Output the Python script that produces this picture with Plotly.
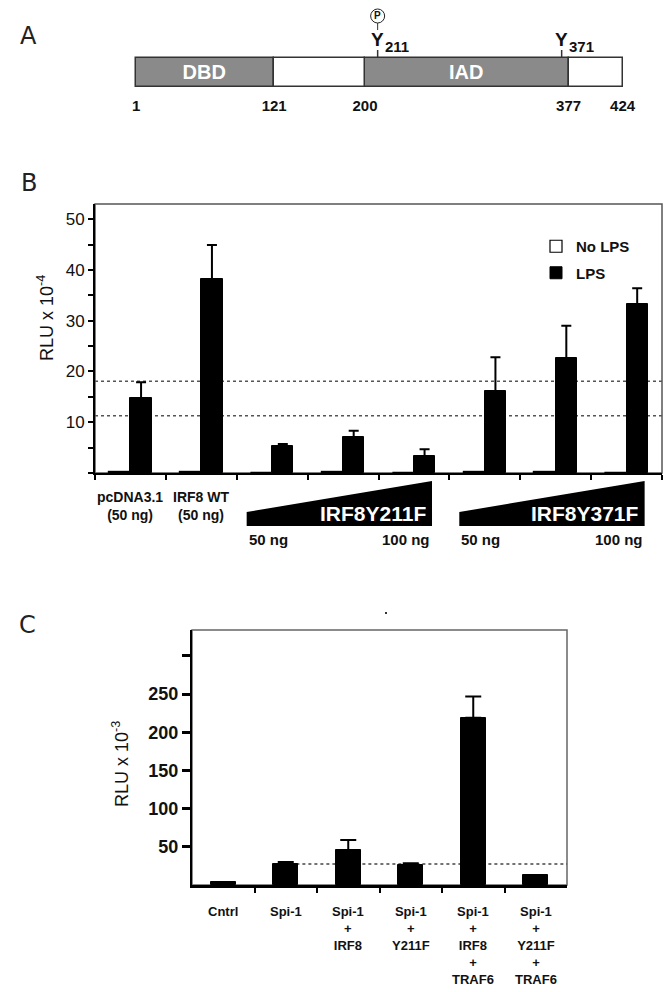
import plotly.graph_objects as go

W, H = 671, 992
FONT = "Liberation Sans, Arial, sans-serif"


def px(xp):
    return xp / W


def py(yp):
    return 1 - yp / H


# ---------------- data ----------------
# Panel A: IRF8 domain structure
domain_names = ["DBD", "", "IAD", ""]
domain_start = [1, 121, 200, 377]
domain_end = [121, 200, 377, 424]
domain_filled = [True, False, True, False]
boundary_ticks = [1, 121, 200, 377, 424]
tyrosine_sites = [211, 371]
phospho_sites = [211]

# Panel B: luciferase, RLU x 10^-4
b_groups = ["pcDNA3.1 (50 ng)", "IRF8 WT (50 ng)",
            "IRF8Y211F 50 ng", "IRF8Y211F 75 ng", "IRF8Y211F 100 ng",
            "IRF8Y371F 50 ng", "IRF8Y371F 75 ng", "IRF8Y371F 100 ng"]
b_no_lps = [0.25, 0.25, 0.0, 0.25, 0.0, 0.25, 0.25, 0.0]
b_lps = [14.8, 38.2, 5.4, 7.1, 3.3, 16.1, 22.6, 33.2]
b_lps_err = [3.1, 6.7, 0.3, 1.2, 1.4, 6.7, 6.4, 3.2]
b_thresholds = [18.1, 11.3]
b_yticks = [10, 20, 30, 40, 50]
b_minor_ticks = [0, 5, 15, 25, 35, 45]
b_group_text = ["pcDNA3.1<br>(50 ng)", "IRF8 WT<br>(50 ng)"]
b_dose_series = ["IRF8Y211F", "IRF8Y371F"]
b_dose_groups = [[2, 3, 4], [5, 6, 7]]
b_dose_low, b_dose_high = "50 ng", "100 ng"

# Panel C: luciferase, RLU x 10^-3
c_labels = ["Cntrl", "Spi-1", "Spi-1\n+\nIRF8", "Spi-1\n+\nY211F",
            "Spi-1\n+\nIRF8\n+\nTRAF6", "Spi-1\n+\nY211F\n+\nTRAF6"]
c_values = [4, 27.5, 46, 26, 219, 13]
c_err = [0, 2.5, 13, 2.5, 28, 0]
c_threshold = 27.5
c_yticks = [50, 100, 150, 200, 250]
c_unlabeled_ticks = [300]

# ---------------- figure ----------------
fig = go.Figure()

# Panel A bar: filled (named) domains and plain linker regions
for filled in (True, False):
    idx = [i for i, f in enumerate(domain_filled) if f == filled]
    trace = dict(
        orientation="h", y=[0] * len(idx),
        x=[domain_end[i] - domain_start[i] for i in idx],
        base=[domain_start[i] for i in idx], width=1,
        marker=dict(color="#8a8a8a" if filled else "#ffffff",
                    line=dict(color="#333333", width=1.5)),
        xaxis="x3", yaxis="y3", showlegend=False, hoverinfo="skip")
    if filled:
        trace.update(text=[domain_names[i] for i in idx], textposition="inside",
                     insidetextanchor="middle", textangle=0, constraintext="none",
                     textfont=dict(color="white", size=20, family=FONT, weight="bold"))
    fig.add_trace(go.Bar(**trace))

# Panel B bars
bx = list(range(len(b_groups)))
fig.add_trace(go.Bar(
    x=bx, y=b_no_lps, name="No LPS", width=0.3, offset=-0.3,
    marker=dict(color="white", line=dict(color="black", width=1.2)),
    xaxis="x", yaxis="y", legendgroup="a"))
fig.add_trace(go.Bar(
    x=bx, y=b_lps, name="LPS", width=0.3, offset=0,
    marker=dict(color="black", line=dict(color="black", width=1)),
    error_y=dict(type="data", array=b_lps_err, arrayminus=[0] * len(b_lps),
                 symmetric=False, color="black", thickness=2, width=5),
    xaxis="x", yaxis="y", legendgroup="b"))

# Panel C bars
cx = list(range(len(c_labels)))
fig.add_trace(go.Bar(
    x=cx, y=c_values, width=0.4, offset=-0.2,
    marker=dict(color="black", line=dict(color="black", width=1)),
    error_y=dict(type="data", array=c_err, arrayminus=[0] * len(c_err),
                 symmetric=False, color="black", thickness=2, width=8),
    xaxis="x2", yaxis="y2", showlegend=False))

shapes = []
ann = []

# ---- Panel A decorations ----
for s in tyrosine_sites:
    shapes.append(dict(type="line", xref="x3", yref="paper", x0=s, x1=s,
                       y0=py(58), y1=py(50), line=dict(color="#333", width=1.5)))
    ann.append(dict(xref="x3", yref="paper", x=s, y=py(40), text="<b>Y</b>",
                    showarrow=False, font=dict(size=19, family=FONT, color="#111"),
                    xanchor="center", yanchor="middle"))
    ann.append(dict(xref="x3", yref="paper", x=s, y=py(46), text="<b>%d</b>" % s,
                    showarrow=False, font=dict(size=15, family=FONT, color="#111"),
                    xanchor="left", yanchor="middle", xshift=5))
for s in phospho_sites:
    shapes.append(dict(type="circle", xref="x3", yref="paper",
                       xsizemode="pixel", ysizemode="pixel",
                       xanchor=s, yanchor=py(16), x0=-7, x1=7, y0=-7, y1=7,
                       line=dict(color="#222", width=1), fillcolor="white"))
    shapes.append(dict(type="line", xref="x3", yref="paper", x0=s, x1=s,
                       y0=py(23), y1=py(30), line=dict(color="#333", width=1)))
    ann.append(dict(xref="x3", yref="paper", x=s, y=py(16), text="<b>P</b>",
                    showarrow=False, font=dict(size=10, family=FONT, color="#111"),
                    xanchor="center", yanchor="middle"))

# ---- Panel B decorations ----
shapes.append(dict(type="rect", xref="x domain", yref="y domain", x0=0, x1=1, y0=0, y1=1,
                   line=dict(color="#555", width=1.5), layer="below"))
for t in b_thresholds:
    shapes.append(dict(type="line", xref="x domain", yref="y", x0=0, x1=1, y0=t, y1=t,
                       line=dict(color="#555", width=1.5, dash="dot"), layer="below"))
for gi, txt in enumerate(b_group_text):
    ann.append(dict(xref="x", yref="paper", x=bx[gi], y=py(506),
                    text="<b>%s</b>" % txt, showarrow=False,
                    font=dict(size=14, family=FONT, color="#111"),
                    xanchor="center", yanchor="middle"))
for name, grp in zip(b_dose_series, b_dose_groups):
    xl = grp[0] - 0.36
    xr = grp[-1] + 0.255
    shapes.append(dict(type="path", xref="x", yref="paper",
                       path="M %f,%f L %f,%f L %f,%f L %f,%f Z" % (
                           xl, py(526), xl, py(512), xr, py(481), xr, py(526)),
                       fillcolor="black", line=dict(color="black", width=0)))
    ann.append(dict(xref="x", yref="paper", x=xr, y=py(513), text="<b>%s</b>" % name,
                    showarrow=False, font=dict(size=21, family=FONT, color="white"),
                    xanchor="right", yanchor="middle", xshift=-4))
    ann.append(dict(xref="x", yref="paper", x=xl, y=py(539), text="<b>%s</b>" % b_dose_low,
                    showarrow=False, font=dict(size=15, family=FONT, color="#111"),
                    xanchor="left", yanchor="middle"))
    ann.append(dict(xref="x", yref="paper", x=xr, y=py(539), text="<b>%s</b>" % b_dose_high,
                    showarrow=False, font=dict(size=15, family=FONT, color="#111"),
                    xanchor="right", yanchor="middle"))
ann.append(dict(xref="paper", yref="paper", x=px(45), y=py(318),
                text="RLU x 10<sup>-4</sup>", textangle=-90, showarrow=False,
                font=dict(size=18, family=FONT, color="#111"),
                xanchor="center", yanchor="middle"))

# ---- Panel C decorations ----
shapes.append(dict(type="rect", xref="x2 domain", yref="y2 domain", x0=0, x1=1, y0=0, y1=1,
                   line=dict(color="#666", width=1.5), layer="below"))
shapes.append(dict(type="line", xref="x2", yref="y2", x0=1.17, x1=len(c_labels) - 0.5,
                   y0=c_threshold, y1=c_threshold,
                   line=dict(color="#444", width=1.3, dash="dot"), layer="below"))
shapes.append(dict(type="rect", xref="paper", yref="paper", x0=px(385), x1=px(387),
                   y0=py(614), y1=py(612), fillcolor="#333", line=dict(width=0)))
for i, lab in enumerate(c_labels):
    ann.append(dict(xref="x2", yref="paper", x=cx[i], y=py(902),
                    text="<b>%s</b>" % lab.replace("\n", "<br>"), showarrow=False,
                    font=dict(size=13, family=FONT, color="#111"),
                    xanchor="center", yanchor="top"))
ann.append(dict(xref="paper", yref="paper", x=px(120), y=py(764),
                text="RLU x 10<sup>-3</sup>", textangle=-90, showarrow=False,
                font=dict(size=18, family=FONT, color="#111"),
                xanchor="center", yanchor="middle"))

# Panel letters
for letter, (lx, ly) in zip(["A", "B", "C"], [(28, 36), (29, 183), (27, 625)]):
    ann.append(dict(xref="paper", yref="paper", x=px(lx), y=py(ly), text=letter,
                    showarrow=False, font=dict(size=24, family="DejaVu Sans", color="#222"),
                    xanchor="center", yanchor="middle"))

A_a, A_b = 135.0, 1.15
fig.update_layout(
    width=W, height=H, margin=dict(l=0, r=0, t=0, b=0),
    paper_bgcolor="white", plot_bgcolor="rgba(0,0,0,0)",
    barmode="overlay", bargap=0,
    font=dict(family=FONT, color="#111"),
    shapes=shapes, annotations=ann,
    legend=dict(x=px(536), y=py(230), xanchor="left", yanchor="top",
                bgcolor="rgba(0,0,0,0)", tracegroupgap=4,
                font=dict(size=15, family=FONT, color="#111", weight="bold")),
    # Panel A axes
    xaxis3=dict(domain=[0, 1], range=[(0 - A_a) / A_b, (W - A_a) / A_b], anchor="y3",
                tickvals=boundary_ticks, ticktext=["<b>%d</b>" % v for v in boundary_ticks],
                ticks="", showline=False, showgrid=False, zeroline=False,
                tickfont=dict(size=15, family=FONT, color="#111")),
    yaxis3=dict(domain=[py(95), py(50)], range=[-0.776, 0.776], anchor="x3",
                visible=False),
    # Panel B axes
    xaxis=dict(domain=[px(95), px(662)], range=[-0.5, len(b_groups) - 0.5], anchor="y",
               tickvals=[i - 0.5 for i in range(len(b_groups) + 1)],
               ticks="outside", ticklen=5, tickwidth=2, tickcolor="black",
               showticklabels=False, showline=True, linecolor="black", linewidth=2,
               showgrid=False, zeroline=False),
    yaxis=dict(domain=[py(473), py(204)], range=[0, 53], anchor="x",
               tickvals=b_yticks, ticks="outside", ticklen=5, tickwidth=1.5,
               tickcolor="black",
               minor=dict(tickvals=b_minor_ticks, ticks="outside", ticklen=5,
                          tickwidth=1.5, tickcolor="black"),
               showline=True, linecolor="black", linewidth=2,
               showgrid=False, zeroline=False,
               tickfont=dict(size=17, family=FONT, color="#111")),
    # Panel C axes
    xaxis2=dict(domain=[px(192), px(567)], range=[-0.5, len(c_labels) - 0.5], anchor="y2",
                tickvals=[i + 0.5 for i in range(len(c_labels) - 1)],
                ticks="outside", ticklen=5, tickwidth=2, tickcolor="black",
                showticklabels=False, showline=True, linecolor="black", linewidth=2.5,
                showgrid=False, zeroline=False),
    yaxis2=dict(domain=[py(885), py(630)], range=[0, 334], anchor="x2",
                tickvals=c_yticks, ticktext=["<b>%d</b>" % t for t in c_yticks],
                ticks="outside", ticklen=8, tickwidth=2.5, tickcolor="black",
                minor=dict(tickvals=c_unlabeled_ticks, ticks="outside", ticklen=8,
                           tickwidth=2.5, tickcolor="black"),
                showline=True, linecolor="black", linewidth=2,
                showgrid=False, zeroline=False,
                tickfont=dict(size=18, family=FONT, color="#111")),
)

fig.write_html(
    "out.html",
    config={"displayModeBar": False},
    post_script="document.body.style.margin='0';document.body.style.overflow='hidden';",
)
